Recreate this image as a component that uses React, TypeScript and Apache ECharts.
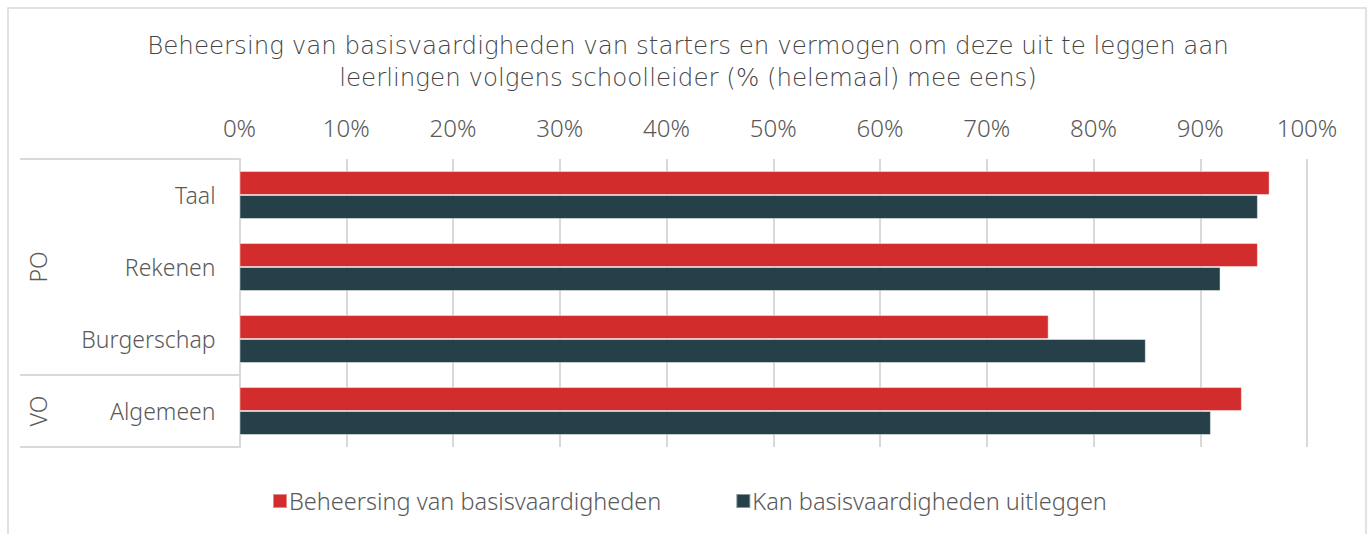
import React, { useEffect, useRef } from "react";
import * as echarts from "echarts";

const categories = ["Taal", "Rekenen", "Burgerschap", "Algemeen"];
const groups = ["PO", "VO"];
const seriesNames = ["Beheersing van basisvaardigheden", "Kan basisvaardigheden uitleggen"];
const beheersing = [96.5, 95.4, 75.8, 93.9];
const uitleggen = [95.4, 91.9, 84.9, 91.0];
const titleText =
  "Beheersing van basisvaardigheden van starters en vermogen om deze uit te leggen aan\nleerlingen volgens schoolleider (% (helemaal) mee eens)";

const FONT = "Noto Sans";
const TITLE_FONT = "DejaVu Sans";
const FW = 300;
const TEXT = "#595959";
const GRID = "#d9d9d9";

export default function App() {
  const ref = useRef<HTMLDivElement>(null);
  useEffect(() => {
    if (!ref.current) return;
    const chart = echarts.init(ref.current, null, { renderer: "svg" });
    const gridLeft = 239.5;
    const gridTop = 159;
    const gridBottom = 447;
    chart.setOption({
      animation: false,
      textStyle: { fontFamily: FONT, color: TEXT, fontWeight: FW },
      title: {
        text: titleText,
        left: 688,
        textAlign: "center",
        top: 30,
        padding: 0,
        textStyle: {
          fontFamily: TITLE_FONT,
          fontSize: 24.5,
          lineHeight: 31.5,
          fontWeight: 200,
          color: "#454545",
        },
      },
      legend: {
        left: 267,
        top: 484,
        itemWidth: 14,
        itemHeight: 14,
        itemGap: 74,
        icon: "rect",
        textStyle: { fontFamily: FONT, fontSize: 23.5, fontWeight: FW, color: TEXT, padding: [0, 0, 0, -3] },
        data: seriesNames,
      },
      grid: {
        left: gridLeft,
        right: 1370 - 1307,
        top: gridTop,
        bottom: 534 - gridBottom,
        containLabel: false,
      },
      xAxis: {
        type: "value",
        position: "top",
        min: 0,
        max: 100,
        interval: 10,
        axisLine: { show: false },
        axisTick: { show: false },
        axisLabel: {
          formatter: "{value}%",
          fontFamily: FONT,
          fontSize: 24,
          fontWeight: FW,
          color: TEXT,
          margin: 20,
        },
        splitLine: { lineStyle: { color: GRID, width: 2 } },
      },
      yAxis: {
        type: "category",
        inverse: true,
        data: categories,
        axisLine: { show: true, lineStyle: { color: GRID, width: 2 } },
        axisTick: { show: false },
        axisLabel: { fontFamily: FONT, fontSize: 23, fontWeight: FW, color: TEXT, margin: 24 },
      },
      series: [
        {
          name: seriesNames[0],
          type: "bar",
          data: beheersing,
          barWidth: 24,
          barGap: "0%",
          itemStyle: { color: "#d22d2c", borderColor: "rgba(255,255,255,0.45)", borderWidth: 1 },
        },
        {
          name: seriesNames[1],
          type: "bar",
          data: uitleggen,
          barWidth: 24,
          barGap: "0%",
          itemStyle: { color: "#254048", borderColor: "rgba(255,255,255,0.45)", borderWidth: 1 },
        },
      ],
      graphic: [
        {
          type: "rect",
          shape: { x: 8, y: 8, width: 1358, height: 540 },
          style: { fill: "none", stroke: GRID, lineWidth: 1.5 },
          silent: true,
          z: -1,
        },
        {
          type: "line",
          shape: { x1: 20, y1: gridTop, x2: 239, y2: gridTop },
          style: { stroke: GRID, lineWidth: 2 },
        },
        {
          type: "line",
          shape: { x1: 20, y1: 375, x2: 239, y2: 375 },
          style: { stroke: GRID, lineWidth: 2 },
        },
        {
          type: "line",
          shape: { x1: 20, y1: gridBottom, x2: 239, y2: gridBottom },
          style: { stroke: GRID, lineWidth: 2 },
        },
        {
          type: "text",
          x: 38,
          y: 267,
          rotation: Math.PI / 2,
          style: {
            text: groups[0],
            fontFamily: FONT,
            fontSize: 23,
            fontWeight: FW,
            fill: TEXT,
            align: "center",
            verticalAlign: "middle",
          },
        },
        {
          type: "text",
          x: 38,
          y: 411,
          rotation: Math.PI / 2,
          style: {
            text: groups[1],
            fontFamily: FONT,
            fontSize: 23,
            fontWeight: FW,
            fill: TEXT,
            align: "center",
            verticalAlign: "middle",
          },
        },
      ],
    });
    return () => chart.dispose();
  }, []);
  return (
    <div
      ref={ref}
      style={{ position: "absolute", left: 0, top: 0, width: 1370, height: 534, background: "#fff" }}
    />
  );
}
